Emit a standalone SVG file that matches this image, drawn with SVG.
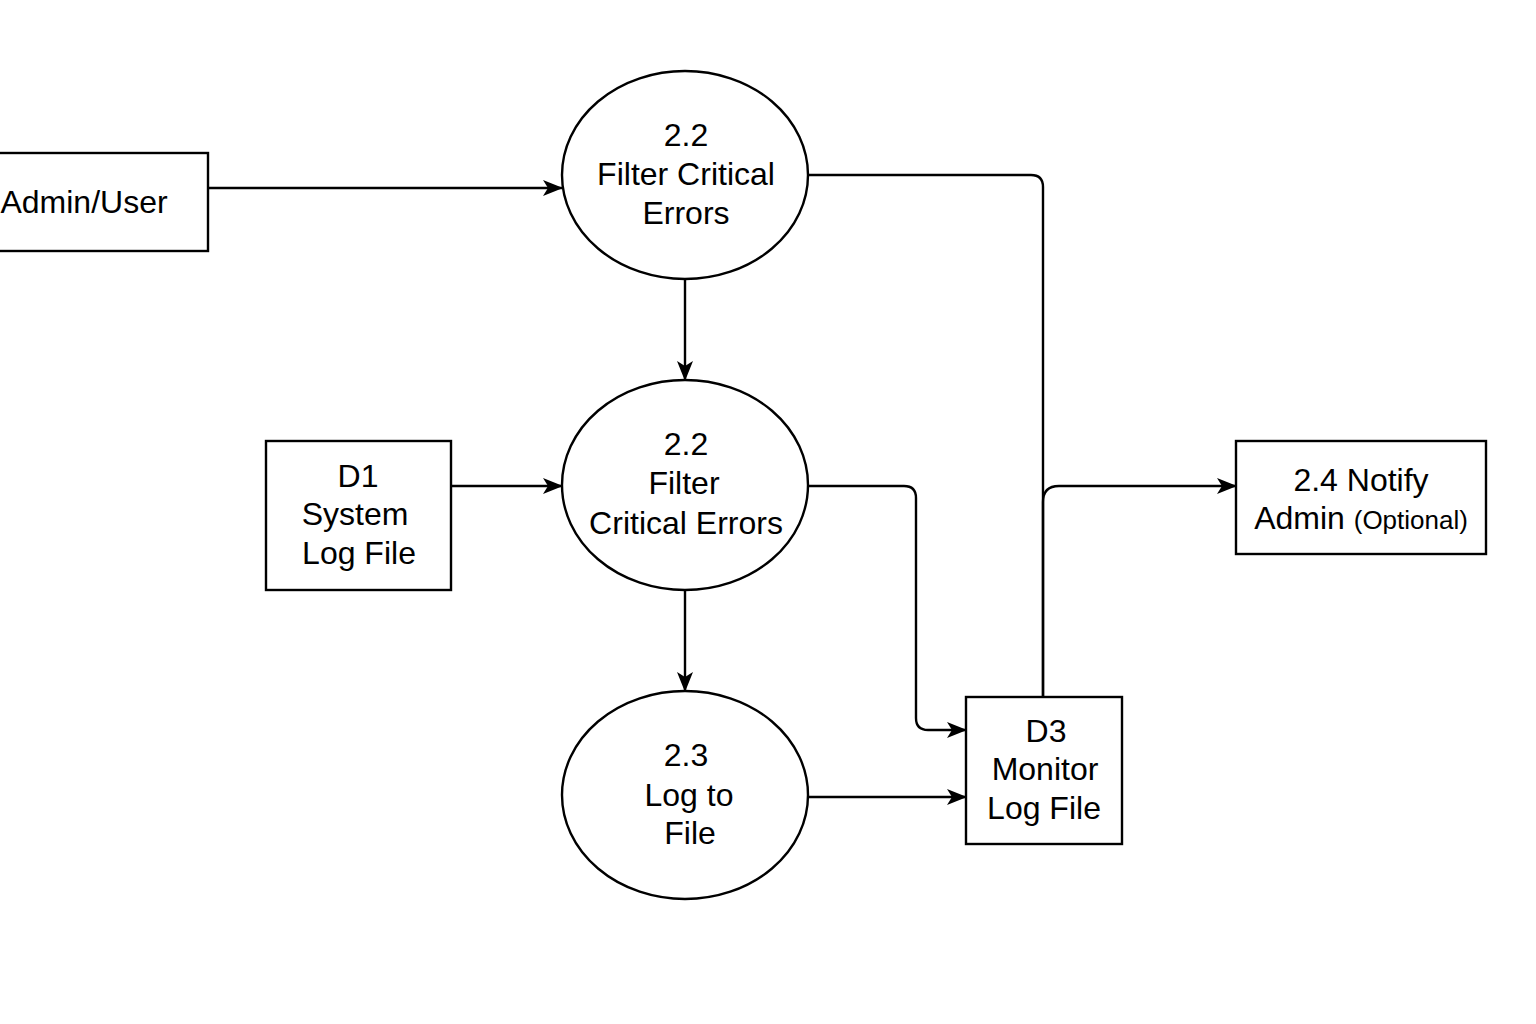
<svg xmlns="http://www.w3.org/2000/svg" width="1536" height="1024" viewBox="0 0 1536 1024">
<defs>
<marker id="arr" markerWidth="20" markerHeight="16" refX="19" refY="8" orient="auto" markerUnits="userSpaceOnUse" viewBox="0 0 20 16">
<path d="M0,0 L20,8 L0,16 L5,8 Z" fill="#000"/>
</marker>
<style>
.shape{fill:#fff;stroke:#000;stroke-width:2.4}
.t{font-family:"Liberation Sans",Arial,sans-serif;font-size:32px;fill:#000;text-anchor:middle}
.s{font-size:26px}
.c{fill:none;stroke:#000;stroke-width:2.4}
</style>
</defs>
<rect width="1536" height="1024" fill="#fff"/>
<g id="connectors">
<path class="c" d="M208,188 H562" marker-end="url(#arr)"/>
<path class="c" d="M685,279 V380" marker-end="url(#arr)"/>
<path class="c" d="M451,486 H562" marker-end="url(#arr)"/>
<path class="c" d="M685,590 V691" marker-end="url(#arr)"/>
<path class="c" d="M808,175 H1031 Q1043,175 1043,187 V697"/>
<path class="c" d="M1043,697 V502 Q1043,486 1059,486 H1236" marker-end="url(#arr)"/>
<path class="c" d="M808,486 H904 Q916,486 916,498 V718 Q916,730 928,730 H966" marker-end="url(#arr)"/>
<path class="c" d="M808,797 H966" marker-end="url(#arr)"/>
</g>
<g id="admin-user">
<rect class="shape" x="-10" y="153" width="218" height="98"/>
<text class="t" x="84" y="213">Admin/User</text>
</g>
<g id="p22a">
<ellipse class="shape" cx="685" cy="175" rx="123" ry="104"/>
<text class="t" x="686" y="146">2.2</text>
<text class="t" x="686" y="185">Filter Critical</text>
<text class="t" x="686" y="224">Errors</text>
</g>
<g id="p22b">
<ellipse class="shape" cx="685" cy="485" rx="123" ry="105"/>
<text class="t" x="686" y="455">2.2</text>
<text class="t" x="684" y="494">Filter</text>
<text class="t" x="686" y="534">Critical Errors</text>
</g>
<g id="p23">
<ellipse class="shape" cx="685" cy="795" rx="123" ry="104"/>
<text class="t" x="686" y="766">2.3</text>
<text class="t" x="689" y="806">Log to</text>
<text class="t" x="690" y="844">File</text>
</g>
<g id="d1">
<rect class="shape" x="266" y="441" width="185" height="149"/>
<text class="t" x="358" y="487">D1</text>
<text class="t" x="355" y="525">System</text>
<text class="t" x="359" y="564">Log File</text>
</g>
<g id="d3">
<rect class="shape" x="966" y="697" width="156" height="147"/>
<text class="t" x="1046" y="742">D3</text>
<text class="t" x="1045" y="780">Monitor</text>
<text class="t" x="1044" y="819">Log File</text>
</g>
<g id="p24">
<rect class="shape" x="1236" y="441" width="250" height="113"/>
<text class="t" x="1361" y="491">2.4 Notify</text>
<text class="t" x="1361" y="529">Admin <tspan class="s">(Optional)</tspan></text>
</g>
</svg>
